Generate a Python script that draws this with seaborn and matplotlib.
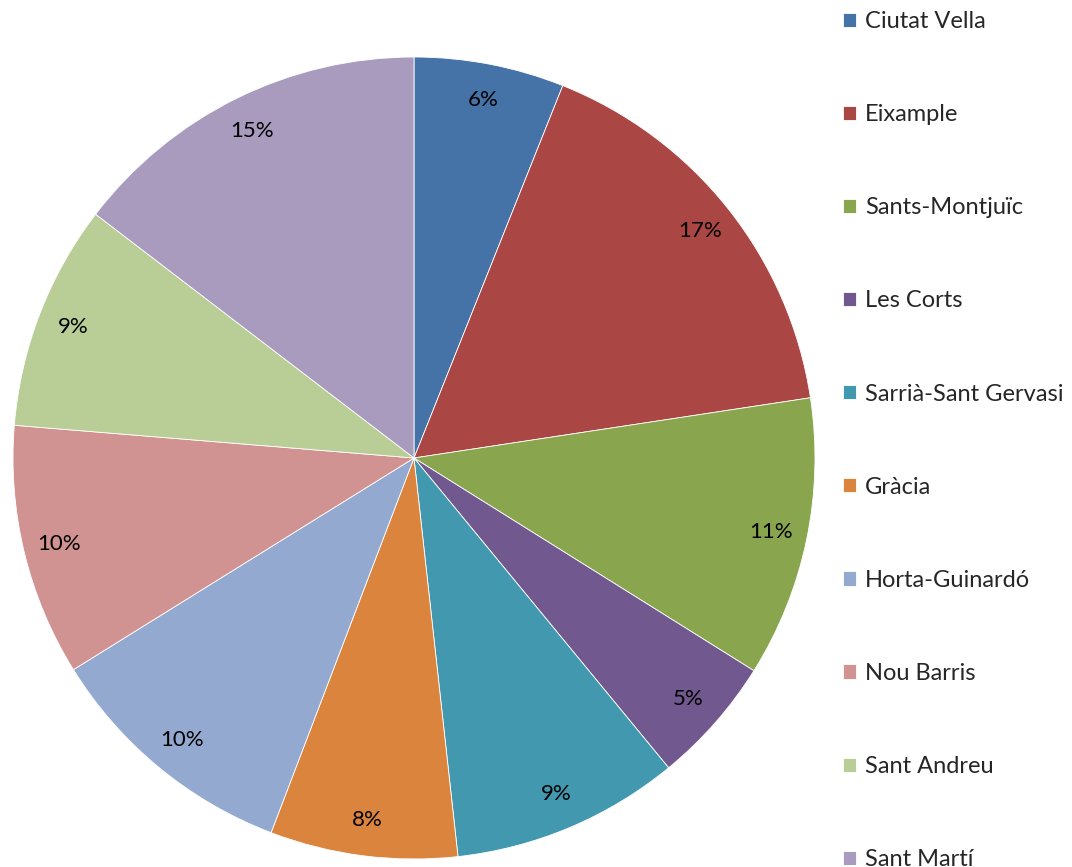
import matplotlib.pyplot as plt
import seaborn as sns

districts = ['Ciutat Vella', 'Eixample', 'Sants-Montjuïc', 'Les Corts',
             'Sarrià-Sant Gervasi', 'Gràcia', 'Horta-Guinardó', 'Nou Barris',
             'Sant Andreu', 'Sant Martí']
shares = [6.05, 16.55, 11.3, 5.15, 9.2, 7.55, 10.35, 10.15, 9.1, 14.6]
colors = ['#4572A7', '#AA4643', '#89A54E', '#71588F', '#4198AF',
          '#DB843D', '#93A9CF', '#D19392', '#B9CD96', '#A99BBD']

sns.set_theme(style='white')
plt.rcParams['font.family'] = ['Lato', 'DejaVu Sans']
palette = sns.color_palette(colors)

fig = plt.figure(figsize=(10.72, 8.67), dpi=100)
ax = fig.add_axes([13 / 1072, 8 / 867, 802 / 1072, 802 / 867])

wedges, texts, autotexts = ax.pie(
    shares, colors=palette, startangle=90, counterclock=False,
    autopct='%1.0f%%', pctdistance=0.91,
    wedgeprops=dict(edgecolor='white', linewidth=0.6),
    textprops=dict(fontsize=16, color='black'))
ax.set_xlim(-1, 1)
ax.set_ylim(-1, 1)
ax.set_aspect('equal')

fig.legend(wedges, districts, loc='upper left',
           bbox_to_anchor=(843 / 1072, 1 - 11 / 867),
           frameon=False, fontsize=17, handlelength=0.55, handleheight=0.55,
           handletextpad=0.38, labelspacing=3.055, borderaxespad=0,
           borderpad=0)

fig.savefig('out.png', dpi=100)
